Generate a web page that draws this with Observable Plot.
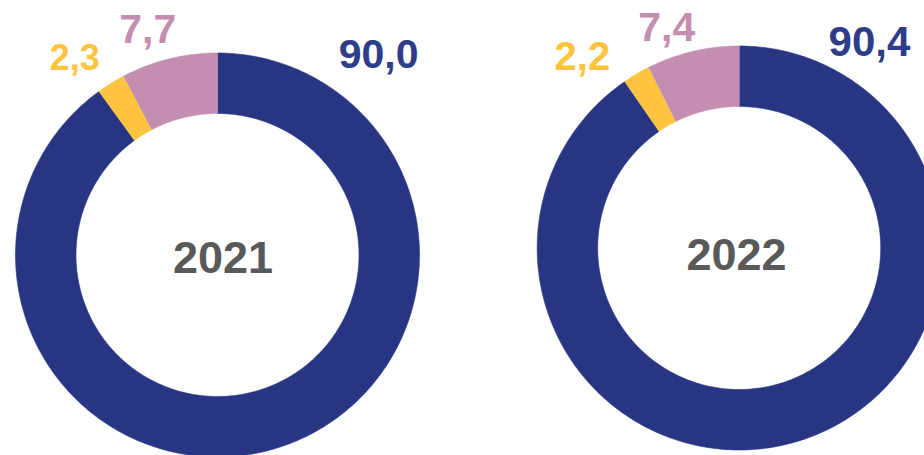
<!DOCTYPE html>
<html><head><meta charset="utf-8">
<script src="https://cdn.jsdelivr.net/npm/d3@7"></script>
<script src="https://cdn.jsdelivr.net/npm/@observablehq/plot@0.6"></script>
<style>body{margin:0;background:#fff;overflow:hidden}</style>
</head><body><div id="chart"></div>
<script>
// ---- data ----
const years = ["2021", "2022"];
const categories = ["Kategorie 1", "Kategorie 2", "Kategorie 3"];
const values2021 = [90.0, 2.3, 7.7];
const values2022 = [90.4, 2.2, 7.4];
const colors = ["#283583", "#FFC43F", "#C48EB1"];
const labelColors = ["#2E3D8A", "#FFC43F", "#C48EB1"];

// ---- layout ----
const W = 924, H = 455;
const centers = [[217, 254.5], [738.7, 247.5]];
const rOuter = 202, rInner = 141.5;
// label placement (polar, degrees clockwise from 12 o'clock; radius px; font size)
const labelAngles = [[38.8, -36, -17.2], [32.4, -39.4, -18.2]];
const labelRadii = [[257, 243, 236], [243, 247, 232]];
const labelSizes = [[41, 36, 41], [42, 40, 41]];
const yearDx = [5.5, -2.7];
const yearDy = [4, 8];

const allValues = [values2021, values2022];
const rad = d => d * Math.PI / 180;

// build slice polygons from values
const rings = [];
const labels = [];
years.forEach((yr, yi) => {
  const vals = allValues[yi];
  const total = d3.sum(vals);
  const [cx, cy] = centers[yi];
  let cum = 0;
  vals.forEach((v, ci) => {
    const a0 = cum / total * 2 * Math.PI;
    cum += v;
    const a1 = cum / total * 2 * Math.PI;
    const n = Math.max(8, Math.ceil((a1 - a0) / (2 * Math.PI) * 400));
    const key = yr + "-" + ci;
    const pts = [];
    for (let i = 0; i <= n; i++) {
      const a = a0 + (a1 - a0) * i / n;
      pts.push({key, cat: categories[ci], x: cx + rOuter * Math.sin(a), y: cy - rOuter * Math.cos(a)});
    }
    for (let i = n; i >= 0; i--) {
      const a = a0 + (a1 - a0) * i / n;
      pts.push({key, cat: categories[ci], x: cx + rInner * Math.sin(a), y: cy - rInner * Math.cos(a)});
    }
    rings.push(...pts);
    const la = rad(labelAngles[yi][ci]), lr = labelRadii[yi][ci];
    labels.push({
      text: v.toFixed(1).replace(".", ","),
      x: cx + lr * Math.sin(la), y: cy - lr * Math.cos(la),
      color: labelColors[ci], size: labelSizes[yi][ci]
    });
  });
});
const yearLabels = years.map((yr, yi) => ({text: yr, x: centers[yi][0] + yearDx[yi], y: centers[yi][1] + yearDy[yi]}));

const chart = Plot.plot({
  width: W, height: H,
  margin: 0,
  style: {fontFamily: "Arial, 'Liberation Sans', sans-serif", background: "#fff"},
  x: {domain: [0, W], range: [0, W], axis: null},
  y: {domain: [0, H], range: [0, H], axis: null},
  color: {domain: categories, range: colors},
  marks: [
    Plot.line(rings, {x: "x", y: "y", z: "key", fill: "cat", stroke: "cat", strokeWidth: 0.6, curve: "linear"}),
    Plot.text(labels, {x: "x", y: "y", text: "text", fill: d => d.color, fontSize: d => d.size, fontWeight: "bold", textAnchor: "middle", lineAnchor: "middle"}),
    Plot.text(yearLabels, {x: "x", y: "y", text: "text", fill: "#595959", fontSize: 45, fontWeight: "bold", textAnchor: "middle", lineAnchor: "middle"})
  ]
});
document.getElementById("chart").appendChild(chart);
</script>
</body></html>
